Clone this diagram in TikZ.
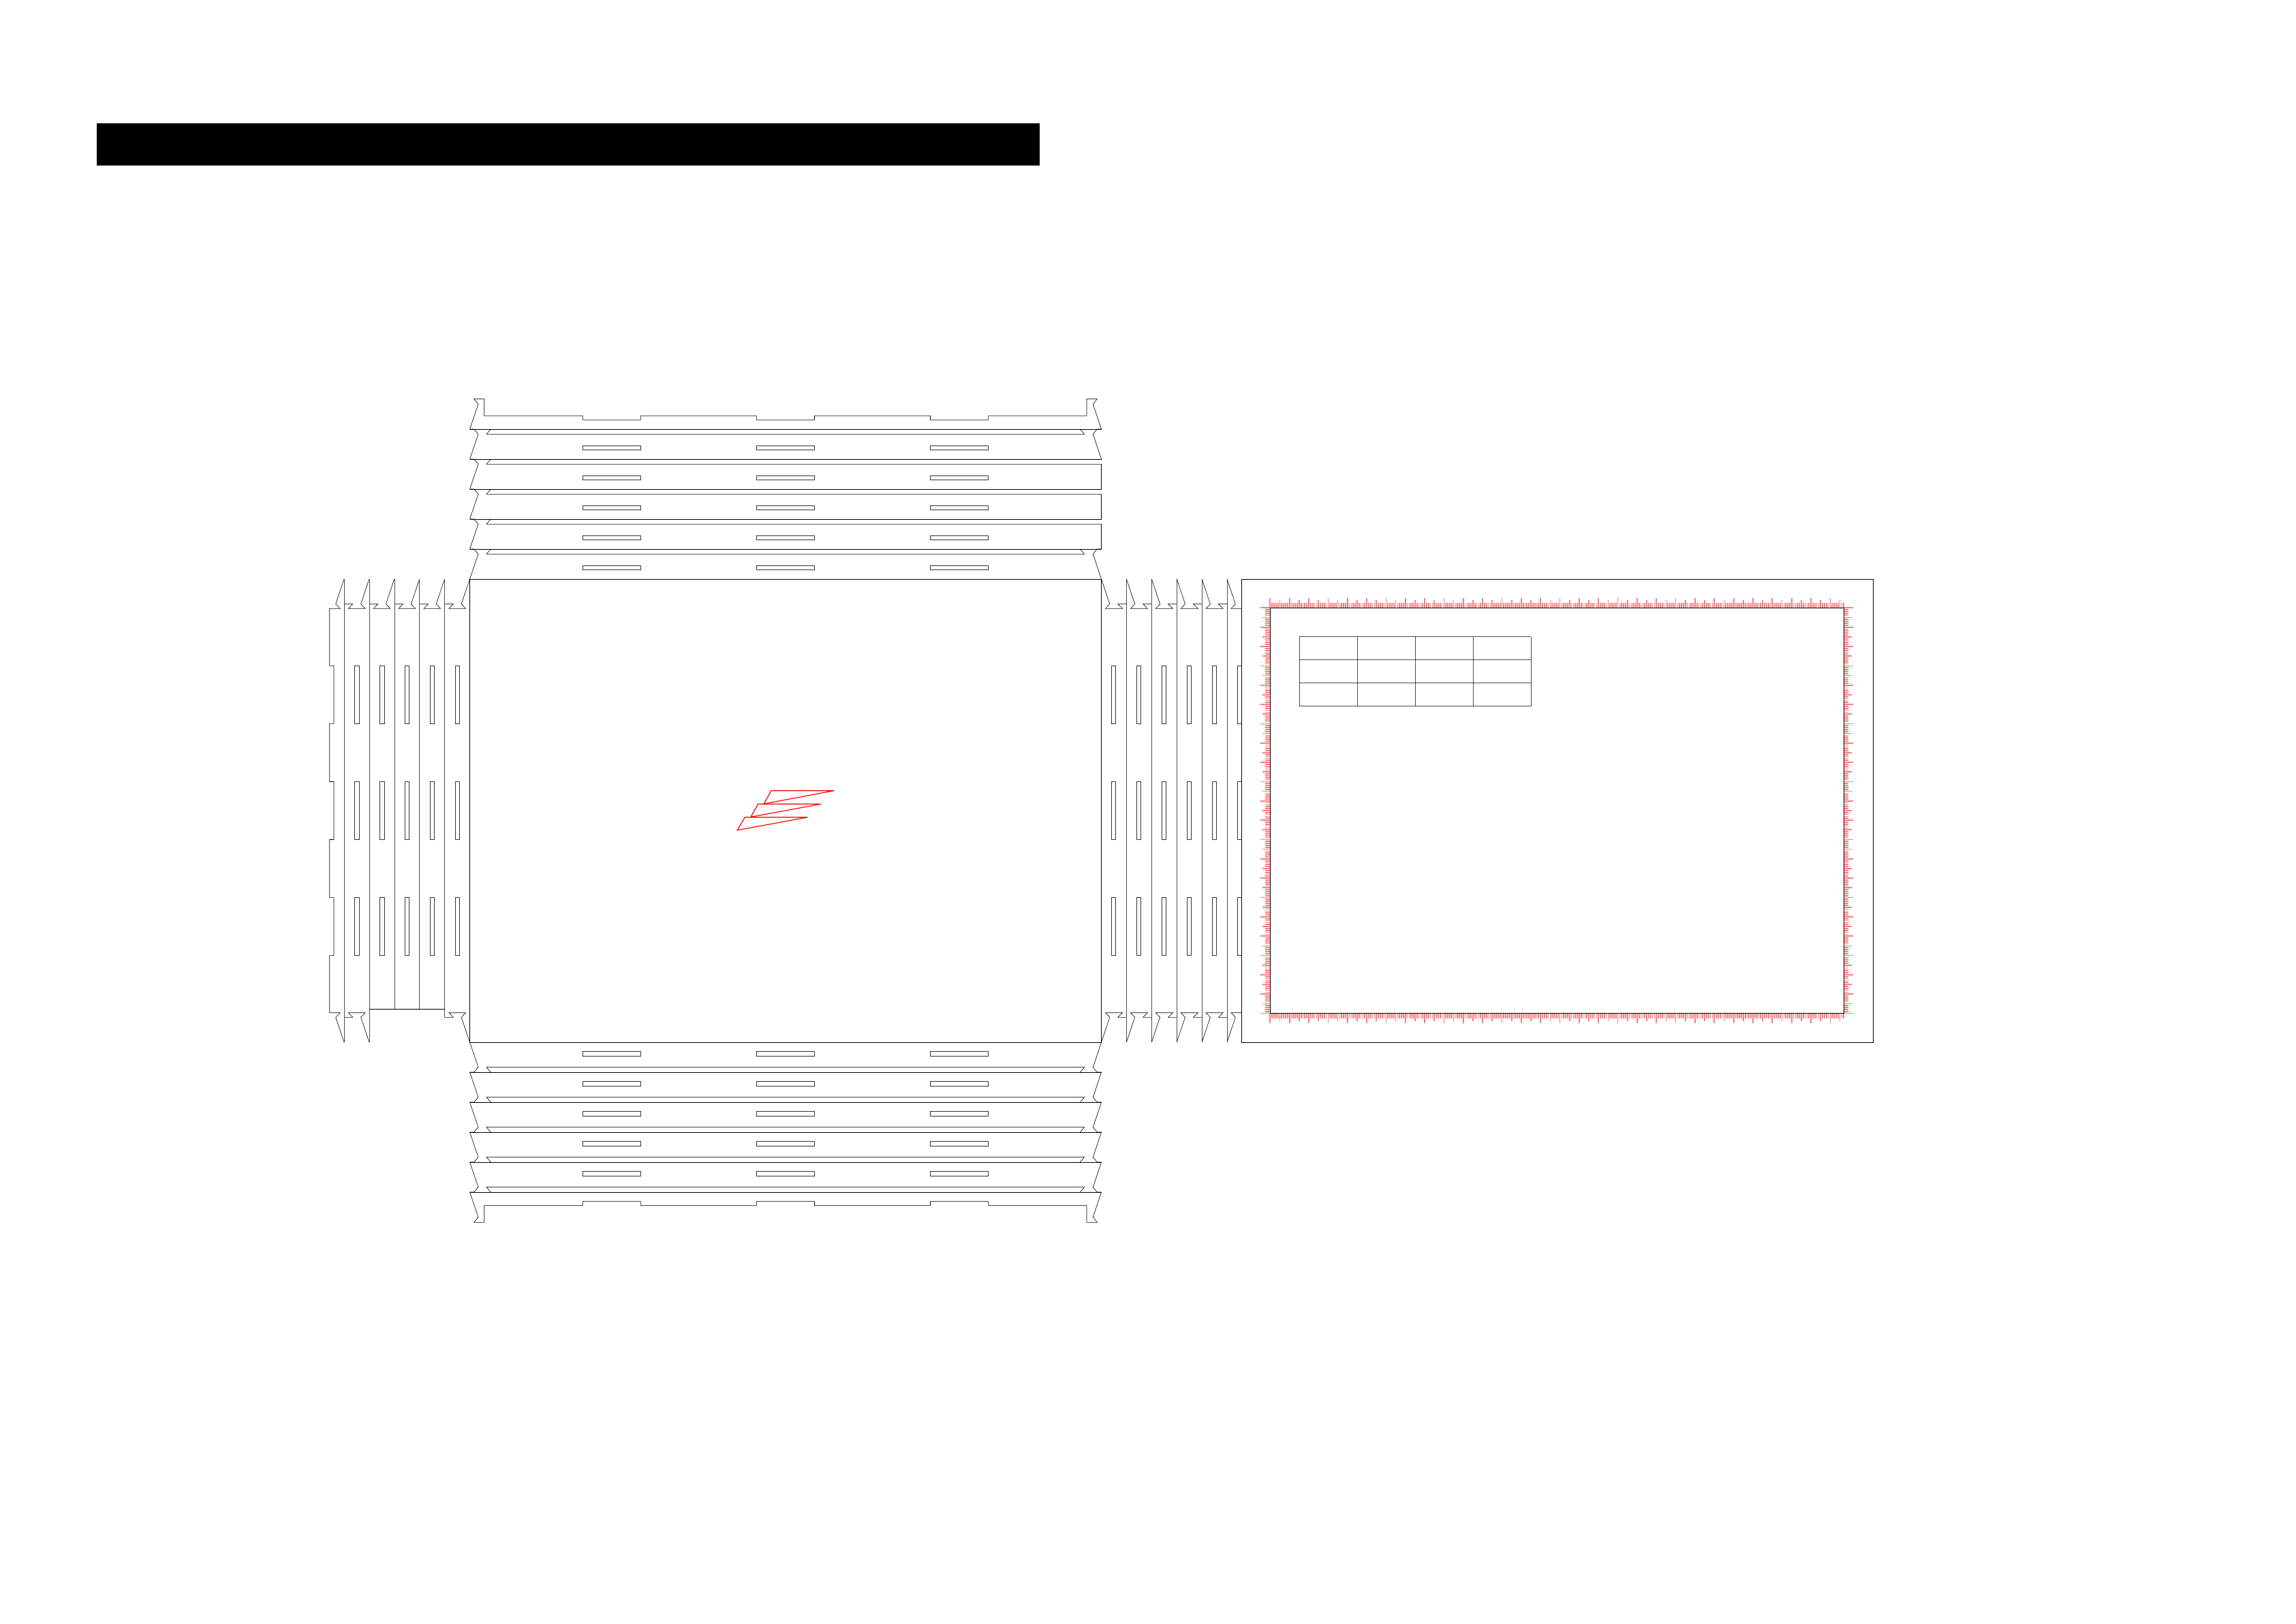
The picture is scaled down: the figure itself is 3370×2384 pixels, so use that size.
\documentclass[tikz,border=0pt]{standalone}
\tikzset{
  cutline/.style={black,line width=0.6bp,line join=miter},
  logoline/.style={red,line width=1.2bp,line join=miter},
  tickline/.style={red!52!white,line width=1.7bp},
  gridline/.style={black,line width=0.7bp,opacity=0.7},
}
\begin{document}
\begin{tikzpicture}[x=1bp,y=-1bp]
\useasboundingbox (0,0) rectangle (3370,2384);
\fill[black] (141.7,181) rectangle (1526,243);
% ---------- main panel
\draw[cutline] (689.5,850) rectangle (1616.5,1530);
% ---------- top flaps
\foreach \Y in {630,674,718,762,806}{
  \draw[cutline] (689.5,\Y) -- (1616.5,\Y);
  \draw[cutline] (689.5,\Y) -- (695.7,\Y) -- (702,{\Y+7.3}) -- (689.5,{\Y+44});
  \foreach \sx in {855.3,1110.4,1365.5}
    \draw[cutline,black!80] (\sx,{\Y+24}) rectangle ({\sx+85.04},{\Y+30.3});
}
\foreach \Y in {630,806}{
  \draw[cutline] (720.3,\Y) -- (714,{\Y+7.3}) -- (1591.7,{\Y+7.3}) -- (1585.3,\Y);
  \draw[cutline] (1616.5,\Y) -- (1610.3,\Y) -- (1604.3,{\Y+7.3}) -- (1616.5,{\Y+44});
}
\foreach \Y in {674,718,762}
  \draw[cutline] (720.3,\Y) -- (714,{\Y+7.3}) -- (1616.5,{\Y+7.3}) -- (1616.5,{\Y+44});
\draw[cutline] (689.5,630) -- (702,593.3) -- (695.7,585.7) -- (710.7,585.7) -- (710.7,610.3)
  -- (855.3,610.3) -- (855.3,616.3) -- (940.34,616.3) -- (940.34,610.3)
  -- (1110.4,610.3) -- (1110.4,616.3) -- (1195.44,616.3) -- (1195.44,610.3)
  -- (1365.5,610.3) -- (1365.5,616.3) -- (1450.54,616.3) -- (1450.54,610.3)
  -- (1595,610.3) -- (1595,585.7) -- (1610.3,585.7) -- (1604.3,593.3) -- (1616.5,630);
% ---------- bottom flaps
\foreach \Y in {1574,1618,1662,1706,1750}{
  \draw[cutline] (689.5,\Y) -- (1616.5,\Y);
  \draw[cutline] (689.5,\Y) -- (695.7,\Y) -- (702,{\Y-7.3}) -- (689.5,{\Y-44});
  \draw[cutline] (1616.5,\Y) -- (1610.3,\Y) -- (1604.3,{\Y-7.3}) -- (1616.5,{\Y-44});
  \draw[cutline] (720.3,\Y) -- (714,{\Y-7.3}) -- (1591.7,{\Y-7.3}) -- (1585.3,\Y);
  \foreach \sx in {855.3,1110.4,1365.5}
    \draw[cutline,black!80] (\sx,{\Y-30.3}) rectangle ({\sx+85.04},{\Y-24});
}
\draw[cutline] (689.5,1750) -- (702,1786.7) -- (695.7,1794.3) -- (710.7,1794.3) -- (710.7,1769.7)
  -- (855.3,1769.7) -- (855.3,1763.7) -- (940.34,1763.7) -- (940.34,1769.7)
  -- (1110.4,1769.7) -- (1110.4,1763.7) -- (1195.44,1763.7) -- (1195.44,1769.7)
  -- (1365.5,1769.7) -- (1365.5,1763.7) -- (1450.54,1763.7) -- (1450.54,1769.7)
  -- (1595,1769.7) -- (1595,1794.3) -- (1610.3,1794.3) -- (1604.3,1786.7) -- (1616.5,1750);
% ---------- left panels: tongue
\draw[cutline] (505,850) -- (492.7,886.7) -- (499.3,893.3) -- (483.7,893.3)
  -- (483.7,977.4) -- (490,977.4) -- (490,1062.4) -- (483.7,1062.4)
  -- (483.7,1147.5) -- (490,1147.5) -- (490,1232.5) -- (483.7,1232.5)
  -- (483.7,1317.6) -- (490,1317.6) -- (490,1402.6) -- (483.7,1402.6)
  -- (483.7,1486.7) -- (499.3,1486.7) -- (492.7,1493.3) -- (505,1530);
% left panels: tooth tops and bottoms
\foreach \L/\R in {505/541.9,541.9/578.8,578.8/615.7,615.7/652.6,652.6/689.5}
  \draw[cutline] (\L,886.7) -- ({\L+12.7},886.7) -- ({\L+6.3},893.3) -- ({\R-6},893.3) -- ({\R-12.3},886.7) -- (\R,850);
\foreach \L/\R in {505/541.9,652.6/689.5}
  \draw[cutline] (\L,1493.3) -- ({\L+12.7},1493.3) -- ({\L+6.3},1486.7) -- ({\R-6},1486.7) -- ({\R-12.3},1493.3) -- (\R,1530);
\draw[cutline,black!70] (505,850) -- (505,1530);
\draw[cutline,black!70] (541.9,850) -- (541.9,1530);
\draw[cutline,black!70] (578.8,850) -- (578.8,1481.7);
\draw[cutline,black!70] (615.7,850) -- (615.7,1481.7);
\draw[cutline,black!70] (652.6,850) -- (652.6,1493.3);
\draw[cutline] (541.9,1481.7) -- (652.6,1481.7);
\foreach \R in {541.9,578.8,615.7,652.6,689.5}
  \foreach \sy in {977.4,1147.5,1317.6}
    \draw[cutline,black!80] ({\R-21.3},\sy) rectangle ({\R-15},{\sy+85.04});
% ---------- right panels
\foreach \L/\R in {1616.5/1653.4,1653.4/1690.3,1690.3/1727.2,1727.2/1764.1,1764.1/1801}{
  \draw[cutline] (\L,850) -- ({\L+12.3},886.7) -- ({\L+6},893.3) -- ({\R-5.7},893.3) -- ({\R-12.7},886.7) -- (\R,886.7);
  \draw[cutline] (\L,1530) -- ({\L+12.3},1493.3) -- ({\L+6},1486.7) -- ({\R-5.7},1486.7) -- ({\R-12.7},1493.3) -- (\R,1493.3);
  \draw[cutline,black!70] (\R,850) -- (\R,1530);
}
\draw[cutline] (1801,850) -- (1813.3,886.7) -- (1807,893.3) -- (1822,893.3);
\draw[cutline] (1801,1530) -- (1813.3,1493.3) -- (1807,1486.7) -- (1822,1486.7);
\foreach \L in {1616.5,1653.4,1690.3,1727.2,1764.1,1801}
  \foreach \sy in {977.4,1147.5,1317.6}
    \draw[cutline,black!80] ({\L+15},\sy) rectangle ({\L+21},{\sy+85.04});
% ---------- logo
\draw[logoline] (1132,1160.7) -- (1224,1160.7) -- (1121.3,1180) -- cycle;
\draw[logoline] (1112.7,1180.3) -- (1205,1180.3) -- (1102,1199.3) -- cycle;
\draw[logoline] (1093.3,1199.7) -- (1185.3,1199.7) -- (1082.3,1218.7) -- cycle;
% ---------- sheet frame
\draw[cutline] (1822,850) rectangle (2749,1530);
% ---------- rulers
\foreach \i in {0,...,297}{
  \pgfmathsetmacro{\tl}{ifthenelse(mod(\i,10)==0,14.17,ifthenelse(mod(\i,5)==0,11.34,7.09))}
  \pgfmathsetmacro{\tx}{1864.3+\i*2.83465}
  \draw[tickline] (\tx,892.3) -- (\tx,{892.3-\tl});
  \draw[tickline] (\tx,1487.6) -- (\tx,{1487.6+\tl});
}
\foreach \i in {0,...,210}{
  \pgfmathsetmacro{\tl}{ifthenelse(mod(\i,10)==0,14.17,ifthenelse(mod(\i,5)==0,11.34,7.09))}
  \pgfmathsetmacro{\ty}{892.3+\i*2.83465}
  \draw[tickline] (1864.3,\ty) -- ({1864.3-\tl},\ty);
  \draw[tickline] (2706.2,\ty) -- ({2706.2+\tl},\ty);
}
\draw[cutline] (1864.3,892.3) rectangle (2706.2,1487.6);
% ---------- table
\foreach \tx in {1907,1992.04,2077.08,2162.12,2247.16}
  \draw[gridline] (\tx,934.7) -- (\tx,1036.76);
\foreach \ty in {934.7,968.72,1002.74,1036.76}
  \draw[gridline] (1907,\ty) -- (2247.16,\ty);
\end{tikzpicture}
\end{document}
